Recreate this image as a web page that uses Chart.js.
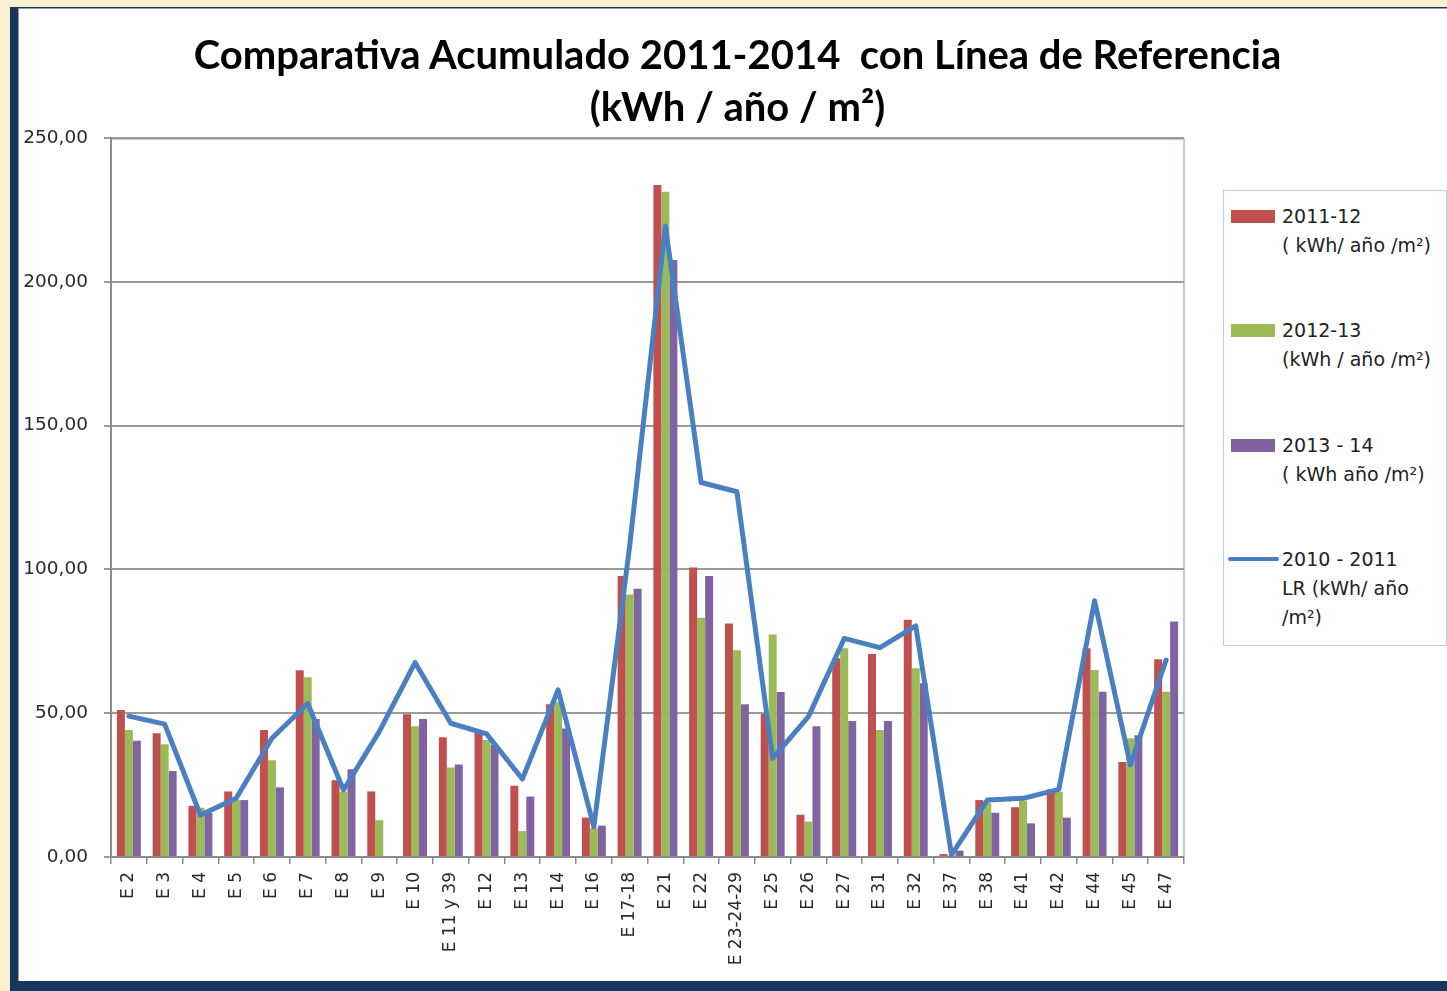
<!DOCTYPE html>
<html>
<head>
<meta charset="utf-8">
<script src="https://cdn.jsdelivr.net/npm/chart.js@4.4.1/dist/chart.umd.min.js"></script>
<style>
  body { margin: 0; width: 1447px; height: 991px; overflow: hidden; background: #fdf0d0; position: relative; }
  #frame { position: absolute; left: 10px; top: 7px; width: 1437px; height: 984px; background: #17375e; }
  #panel { position: absolute; left: 18px; top: 8px; width: 1429px; height: 973px; background: #fff; box-shadow: inset 1px 1px 0 #9a9a9a; }
  #chartCanvas { position: absolute; left: 0; top: 0; }
  #chartTitle { position: absolute; left: 28px; top: 28px; width: 1419px; text-align: center; font-family: Lato, "Open Sans", sans-serif; font-weight: bold; font-size: 40px; line-height: 52px; color: #000; white-space: pre; }
  #chartLegend { position: absolute; left: 1223px; top: 190px; width: 222px; height: 454px; border: 1.5px solid #b9cde5; background: #fff; font-family: "DejaVu Sans", Verdana, sans-serif; font-size: 19px; line-height: 29px; color: #222; }
  .legendItem { position: absolute; left: 0; width: 222px; }
  .legendSwatch { position: absolute; }
  .legendText { position: absolute; left: 58px; top: 0; white-space: pre; }
</style>
</head>
<body>
<div id="frame"></div>
<div id="panel">
  <canvas id="chartCanvas" width="1429" height="973"></canvas>
</div>
<div id="chartTitle"></div>
<div id="chartLegend"></div>
<script>
const titleLines = ['Comparativa Acumulado 2011-2014  con Línea de Referencia', '(kWh / año / m²)']

const categories = ['E 2', 'E 3', 'E 4', 'E 5', 'E 6', 'E 7', 'E 8', 'E 9', 'E 10', 'E 11 y 39', 'E 12', 'E 13', 'E 14', 'E 16', 'E 17-18',
  'E 21', 'E 22', 'E 23-24-29', 'E 25', 'E 26', 'E 27', 'E 31', 'E 32', 'E 37', 'E 38', 'E 41', 'E 42', 'E 44', 'E 45', 'E 47']

const values2011_12 = [51.1, 43.0, 17.8, 22.8, 44.2, 64.9, 26.7, 22.8, 49.6, 41.6, 43.2, 24.8, 53.1, 13.7, 97.7,
  233.7, 100.7, 81.2, 49.7, 14.7, 69.1, 70.6, 82.5, 1.0, 19.8, 17.3, 23.5, 72.6, 33.0, 68.8]
const values2012_13 = [44.2, 39.2, 17.1, 19.8, 33.6, 62.5, 22.7, 12.8, 45.5, 31.1, 40.7, 9.0, 54.0, 10.1, 91.3,
  231.3, 83.2, 71.9, 77.4, 12.3, 72.6, 44.2, 65.6, 0.5, 18.9, 19.6, 22.7, 65.0, 41.3, 57.5]
const values2013_14 = [40.4, 29.9, 15.3, 19.8, 24.2, 48.0, 30.5, 0, 48.0, 32.2, 39.0, 21.0, 44.7, 10.9, 93.3,
  207.6, 97.7, 53.1, 57.4, 45.5, 47.3, 47.3, 60.4, 2.2, 15.4, 11.7, 13.7, 57.5, 42.3, 81.9]
const valuesLR2010_11 = [49.0, 46.2, 14.6, 20.4, 41.3, 53.4, 23.3, 43.6, 67.6, 46.5, 42.8, 27.1, 58.1, 10.5, 108.0,
  219.4, 130.2, 127.0, 34.3, 48.8, 76.0, 72.8, 80.4, 0.7, 19.8, 20.4, 23.5, 89.1, 32.0, 68.5]

const yTickLabels = ['0,00', '50,00', '100,00', '150,00', '200,00', '250,00']

const seriesLabels = [
  ['2011-12', '( kWh/ año /m²)'],
  ['2012-13', '(kWh / año /m²)'],
  ['2013 - 14', '( kWh año /m²)'],
  ['2010 - 2011', 'LR (kWh/ año', '/m²)']
]

const plotBorder = {
  id: 'plotBorder',
  beforeDraw: (chart) => {
    const { ctx, chartArea } = chart
    ctx.save()
    ctx.strokeStyle = '#b9cde5'
    ctx.lineWidth = 2
    ctx.beginPath()
    ctx.moveTo(chartArea.left, chartArea.top + 1)
    ctx.lineTo(chartArea.right, chartArea.top + 1)
    ctx.lineTo(chartArea.right, chartArea.bottom)
    ctx.stroke()
    ctx.restore()
  }
}

const buildLegend = (datasets) => {
  const legend = document.querySelector('#chartLegend')
  datasets.forEach((ds, i) => {
    const item = document.createElement('div')
    item.className = 'legendItem'
    item.style.top = `${11 + i * 114.3}px`
    const swatch = document.createElement('div')
    swatch.className = 'legendSwatch'
    if (ds.type === 'line') {
      swatch.style.left = '4px'
      swatch.style.width = '51px'
      swatch.style.height = '4px'
      swatch.style.top = '12.5px'
      swatch.style.background = ds.borderColor
      swatch.style.borderRadius = '2px'
    } else {
      swatch.style.left = '7px'
      swatch.style.width = '44px'
      swatch.style.height = '13px'
      swatch.style.top = '8px'
      swatch.style.background = ds.backgroundColor
    }
    const text = document.createElement('div')
    text.className = 'legendText'
    text.innerText = seriesLabels[i].join('\n')
    item.appendChild(swatch)
    item.appendChild(text)
    legend.appendChild(item)
  })
}

const init = () => {
  document.querySelector('#chartTitle').innerText = titleLines.join('\n')

  const datasets = [
    { label: seriesLabels[0].join(' '), data: values2011_12, backgroundColor: '#c0504d', order: 1 },
    { label: seriesLabels[1].join(' '), data: values2012_13, backgroundColor: '#9bbb59', order: 1 },
    { label: seriesLabels[2].join(' '), data: values2013_14, backgroundColor: '#8064a2', order: 1 },
    {
      type: 'line', label: seriesLabels[3].join(' '), data: valuesLR2010_11,
      borderColor: '#4a80c2', borderWidth: 5, pointRadius: 0, tension: 0, fill: false, order: 0,
      borderJoinStyle: 'round', borderCapStyle: 'round'
    }
  ]

  const ctx = document.querySelector('#chartCanvas')
  new Chart(ctx, {
    type: 'bar',
    data: { labels: categories, datasets: datasets },
    options: {
      responsive: false,
      animation: false,
      devicePixelRatio: 1,
      layout: { padding: { top: 130, left: 0, right: 263, bottom: 0 } },
      datasets: { bar: { categoryPercentage: 0.67, barPercentage: 1.0 } },
      plugins: {
        legend: { display: false },
        title: { display: false },
        tooltip: { enabled: false }
      },
      scales: {
        x: {
          offset: true,
          grid: { offset: true, drawOnChartArea: false, drawTicks: true, tickLength: 7, color: '#8c8c8c', lineWidth: 1.5 },
          border: { color: '#8c8c8c', width: 2 },
          ticks: {
            autoSkip: false, maxRotation: 90, minRotation: 90, padding: 8,
            color: '#2a2a2a', font: { family: '"DejaVu Sans", Verdana, sans-serif', size: 17 }
          },
          afterFit: (scale) => { scale.height = 124 }
        },
        y: {
          min: 0,
          max: 250,
          grid: { color: '#9a9a9a', lineWidth: 2, tickLength: 7 },
          border: { color: '#8c8c8c', width: 2 },
          ticks: {
            stepSize: 50, padding: 16,
            color: '#2a2a2a', font: { family: '"DejaVu Sans", Verdana, sans-serif', size: 18.5 },
            callback: (value, index) => yTickLabels[index]
          },
          afterFit: (scale) => { scale.width = 93 }
        }
      }
    },
    plugins: [plotBorder]
  })

  buildLegend(datasets)
}

document.addEventListener('DOMContentLoaded', function() {
  init()
})
</script>
</body>
</html>
